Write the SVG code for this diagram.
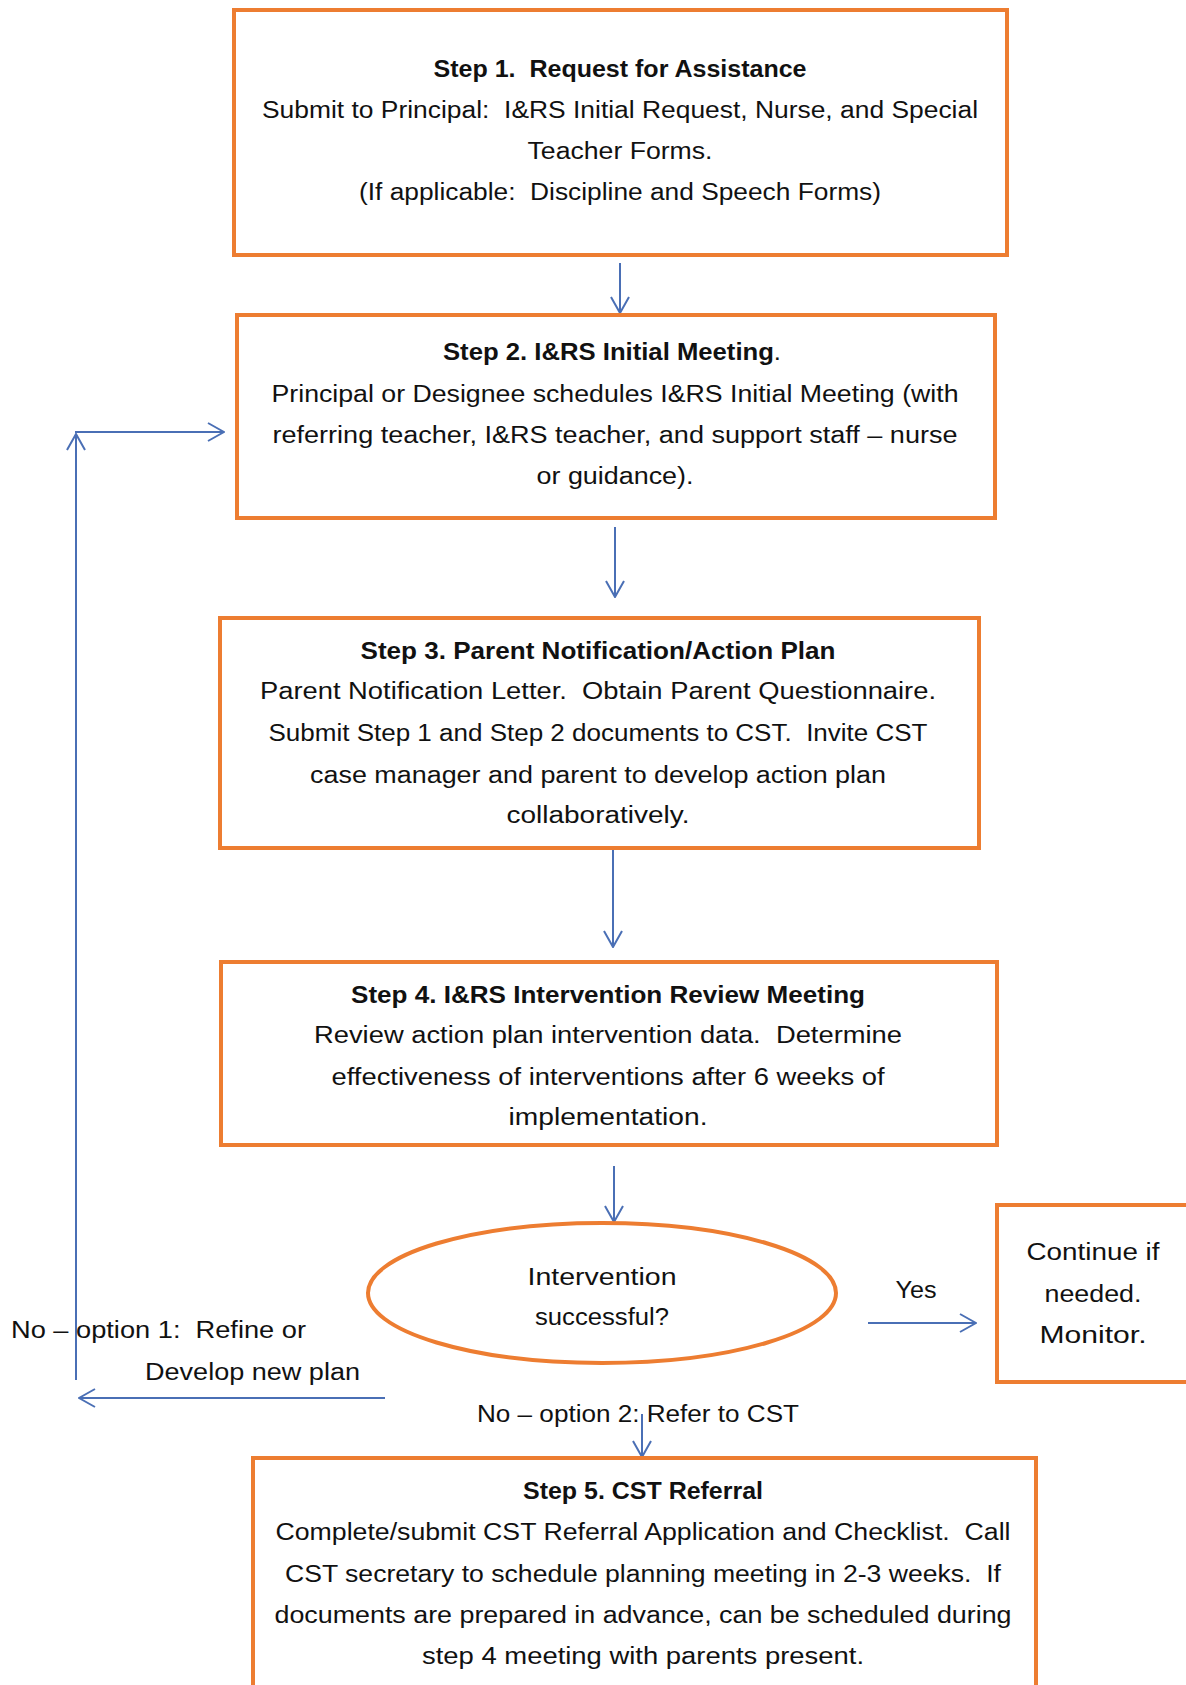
<svg xmlns="http://www.w3.org/2000/svg" width="1186" height="1685" viewBox="0 0 1186 1685">
<style>
.box{fill:#fff;stroke:#ED7D31;stroke-width:4}
.t{font-family:"Liberation Sans",Arial,sans-serif;font-size:23px;fill:#111;text-anchor:middle;white-space:pre}
.b{font-weight:bold}
.l{text-anchor:start}
.c{fill:none;stroke:#4a6fb5;stroke-width:2}
</style>
<defs>
<marker id="ah" viewBox="0 0 18 20" refX="17" refY="10" markerWidth="18" markerHeight="20" markerUnits="userSpaceOnUse" orient="auto">
<path d="M1,1 L17,10 L1,19" fill="none" stroke="#4a6fb5" stroke-width="2"/>
</marker>
</defs>
<rect width="1186" height="1685" fill="#fff"/>

<g id="connectors">
<line class="c" x1="620" y1="263" x2="620" y2="313" marker-end="url(#ah)"/>
<line class="c" x1="615" y1="527" x2="615" y2="597" marker-end="url(#ah)"/>
<line class="c" x1="613" y1="850" x2="613" y2="947" marker-end="url(#ah)"/>
<line class="c" x1="614" y1="1166" x2="614" y2="1222" marker-end="url(#ah)"/>
<line class="c" x1="868" y1="1323" x2="976" y2="1323" marker-end="url(#ah)"/>
<line class="c" x1="385" y1="1398" x2="79" y2="1398" stroke="#4472C4" marker-end="url(#ah)"/>
<line class="c" x1="76" y1="1380" x2="76" y2="434" stroke="#7f93b8" marker-end="url(#ah)"/>
<line class="c" x1="75" y1="432" x2="224" y2="432" marker-end="url(#ah)"/>
<line class="c" x1="642" y1="1414" x2="642" y2="1457" marker-end="url(#ah)"/>
</g>

<g id="step1">
<rect class="box" x="234" y="10" width="773" height="245"/>
<text class="t b" x="620" y="77" textLength="373" lengthAdjust="spacingAndGlyphs" xml:space="preserve">Step 1.  Request for Assistance</text>
<text class="t" x="620" y="118" textLength="716" lengthAdjust="spacingAndGlyphs" xml:space="preserve">Submit to Principal:  I&amp;RS Initial Request, Nurse, and Special</text>
<text class="t" x="620" y="159" textLength="185" lengthAdjust="spacingAndGlyphs">Teacher Forms.</text>
<text class="t" x="620" y="200" textLength="522" lengthAdjust="spacingAndGlyphs" xml:space="preserve">(If applicable:  Discipline and Speech Forms)</text>
</g>

<g id="step2">
<rect class="box" x="237" y="315" width="758" height="203"/>
<text class="t" x="612" y="360" textLength="338" lengthAdjust="spacingAndGlyphs"><tspan class="b">Step 2. I&amp;RS Initial Meeting</tspan>.</text>
<text class="t" x="615" y="402" textLength="687" lengthAdjust="spacingAndGlyphs">Principal or Designee schedules I&amp;RS Initial Meeting (with</text>
<text class="t" x="615" y="443" textLength="685" lengthAdjust="spacingAndGlyphs">referring teacher, I&amp;RS teacher, and support staff – nurse</text>
<text class="t" x="615" y="484" textLength="157" lengthAdjust="spacingAndGlyphs">or guidance).</text>
</g>

<g id="step3">
<rect class="box" x="220" y="618" width="759" height="230"/>
<text class="t b" x="598" y="659" textLength="475" lengthAdjust="spacingAndGlyphs">Step 3. Parent Notification/Action Plan</text>
<text class="t" x="598" y="699" textLength="676" lengthAdjust="spacingAndGlyphs" xml:space="preserve">Parent Notification Letter.  Obtain Parent Questionnaire.</text>
<text class="t" x="598" y="741" textLength="659" lengthAdjust="spacingAndGlyphs" xml:space="preserve">Submit Step 1 and Step 2 documents to CST.  Invite CST</text>
<text class="t" x="598" y="783" textLength="576" lengthAdjust="spacingAndGlyphs">case manager and parent to develop action plan</text>
<text class="t" x="598" y="823" textLength="183" lengthAdjust="spacingAndGlyphs">collaboratively.</text>
</g>

<g id="step4">
<rect class="box" x="221" y="962" width="776" height="183"/>
<text class="t b" x="608" y="1003" textLength="514" lengthAdjust="spacingAndGlyphs">Step 4. I&amp;RS Intervention Review Meeting</text>
<text class="t" x="608" y="1043" textLength="588" lengthAdjust="spacingAndGlyphs" xml:space="preserve">Review action plan intervention data.  Determine</text>
<text class="t" x="608" y="1085" textLength="553" lengthAdjust="spacingAndGlyphs">effectiveness of interventions after 6 weeks of</text>
<text class="t" x="608" y="1125" textLength="199" lengthAdjust="spacingAndGlyphs">implementation.</text>
</g>

<g id="decision">
<ellipse class="box" cx="602" cy="1293" rx="234" ry="70"/>
<text class="t" x="602" y="1285" textLength="149" lengthAdjust="spacingAndGlyphs">Intervention</text>
<text class="t" x="602" y="1325" textLength="134" lengthAdjust="spacingAndGlyphs">successful?</text>
</g>

<g id="continue">
<rect class="box" x="997" y="1205" width="200" height="177"/>
<text class="t" x="1093" y="1260" textLength="133" lengthAdjust="spacingAndGlyphs">Continue if</text>
<text class="t" x="1093" y="1302" textLength="97" lengthAdjust="spacingAndGlyphs">needed.</text>
<text class="t" x="1093" y="1343" textLength="107" lengthAdjust="spacingAndGlyphs">Monitor.</text>
</g>

<g id="labels">
<text class="t" x="916" y="1298" textLength="41" lengthAdjust="spacingAndGlyphs">Yes</text>
<text class="t l" x="11" y="1338" textLength="295" lengthAdjust="spacingAndGlyphs" xml:space="preserve">No – option 1:  Refine or</text>
<text class="t l" x="145" y="1380" textLength="215" lengthAdjust="spacingAndGlyphs">Develop new plan</text>
<text class="t l" x="477" y="1422" textLength="322" lengthAdjust="spacingAndGlyphs">No – option 2: Refer to CST</text>
</g>

<g id="step5">
<rect class="box" x="253" y="1458" width="783" height="240"/>
<text class="t b" x="643" y="1499" textLength="240" lengthAdjust="spacingAndGlyphs">Step 5. CST Referral</text>
<text class="t" x="643" y="1540" textLength="735" lengthAdjust="spacingAndGlyphs" xml:space="preserve">Complete/submit CST Referral Application and Checklist.  Call</text>
<text class="t" x="643" y="1582" textLength="716" lengthAdjust="spacingAndGlyphs" xml:space="preserve">CST secretary to schedule planning meeting in 2-3 weeks.  If</text>
<text class="t" x="643" y="1623" textLength="737" lengthAdjust="spacingAndGlyphs">documents are prepared in advance, can be scheduled during</text>
<text class="t" x="643" y="1664" textLength="442" lengthAdjust="spacingAndGlyphs">step 4 meeting with parents present.</text>
</g>
</svg>
